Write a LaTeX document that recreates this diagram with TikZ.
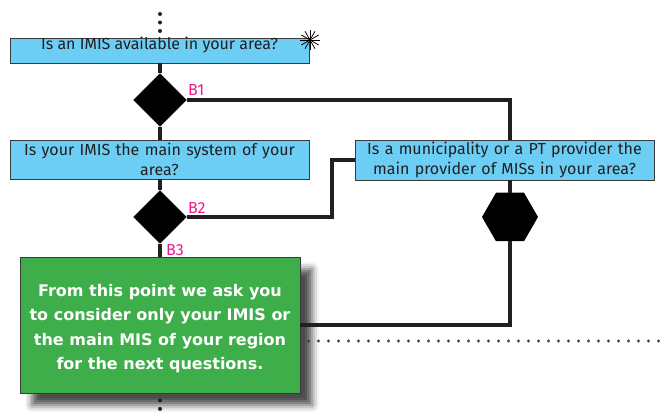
\documentclass[tikz,border=0pt]{standalone}
\usepackage{fontspec}
\setmainfont{Fira Sans}
\newfontfamily\notefont{DejaVu Sans}
\usetikzlibrary{shapes.geometric,shadows.blur}
\definecolor{qblue}{HTML}{6CCEF5}
\definecolor{notegreen}{HTML}{3DAE49}
\definecolor{ink}{HTML}{231F20}
\definecolor{edge}{HTML}{3A3A3A}
\definecolor{tagpink}{HTML}{EC198C}
\tikzset{
  question/.style={draw=edge, line width=0.8pt, fill=qblue, text=ink, inner sep=1pt,
    font=\fontsize{16}{19.5}\selectfont, align=center},
  decision/.style={diamond, aspect=1, fill=black, draw=black, inner sep=0pt, minimum size=53pt},
  hexnode/.style={regular polygon, regular polygon sides=6, fill=black, inner sep=0pt, minimum size=56pt},
  flow/.style={draw=ink, line width=4pt},
  dotline/.style={draw=ink, line width=4pt, line cap=round, dash pattern=on 0pt off 8.5pt},
  dotlinefine/.style={draw=ink!85, line width=3.2pt, line cap=round, dash pattern=on 0pt off 10pt},
  tag/.style={text=tagpink, font=\fontsize{16}{18}\selectfont, inner sep=0pt},
  notebox/.style={draw=edge, line width=0.8pt, fill=notegreen, text=white, inner sep=0pt,
    font=\notefont\fontsize{16}{24.3}\selectfont\bfseries,
    minimum width=280pt, minimum height=136pt,
    blur shadow={shadow xshift=12pt, shadow yshift=-12pt, shadow blur radius=7pt, shadow opacity=70}}
}
\begin{document}
\begin{tikzpicture}[x=1pt,y=-1pt]
\useasboundingbox (0,0) rectangle (664,419);

% questions and note
\node[question, minimum width=299pt, text height=11pt, text depth=12pt] (q1) at (159.5,50.5)
  {Is an IMIS available in your area?};
\node[question, minimum width=299pt, minimum height=39pt, text width=297pt] (q2) at (159.5,159.5)
  {Is your IMIS the main system of your\\area?};
\node[question, minimum width=299pt, minimum height=40pt, text width=297pt] (q3) at (504.5,160)
  {Is a municipality or a PT provider the\\main provider of MISs in your area?};
\node[notebox] (note) at (160,325)
  {\parbox[c][130pt][c]{278pt}{\centering\vspace{7pt}%
    From this point we ask you\\to consider only your IMIS or\\the main MIS of your region\\for the next questions.}};

% decision points
\node[decision] (d1) at (160,100) {};
\node[decision] (d2) at (160,217) {};
\node[hexnode] (hex) at (510,217) {};

% branch tags
\node[tag, anchor=south west] (b1) at (188,96) {B1};
\node[tag, anchor=south west] (b2) at (188,214) {B2};
\node[tag, anchor=south west] (b3) at (166,256) {B3};

% connectors
\coordinate (top) at (160,14);
\coordinate (bend) at (332,217);
\coordinate (botend) at (160,416);
\coordinate (rightend) at (664,341);
\draw[dotline] (top) -- (q1.north -| top);
\draw[flow] (q1.south -| d1) -- (d1.north);
\draw[flow] (d1.south) -- (q2.north -| d1);
\draw[flow] (q2.south -| d2) -- (d2.north);
\draw[flow] (d2.south) -- (note.north -| d2);
\draw[flow] (d1.east) -| (q3.north -| hex);
\draw[flow] (d2.east) -- (bend) |- (q3.west);
\draw[flow] (q3.south -| hex) -- (hex.north);
\draw[flow] (hex.south) |- (note.east);
\draw[dotlinefine] (note.east |- rightend) ++(8,0) -- (rightend);
\draw[dotline] (note.south -| botend) ++(0,7) -- (botend);

% asterisk mark
\coordinate (ast) at (310,40);
\foreach \a in {0,30,...,150}
  \draw[black, line width=0.8pt] (ast) ++(\a:10) -- ++(\a+180:20);
\end{tikzpicture}
\end{document}
